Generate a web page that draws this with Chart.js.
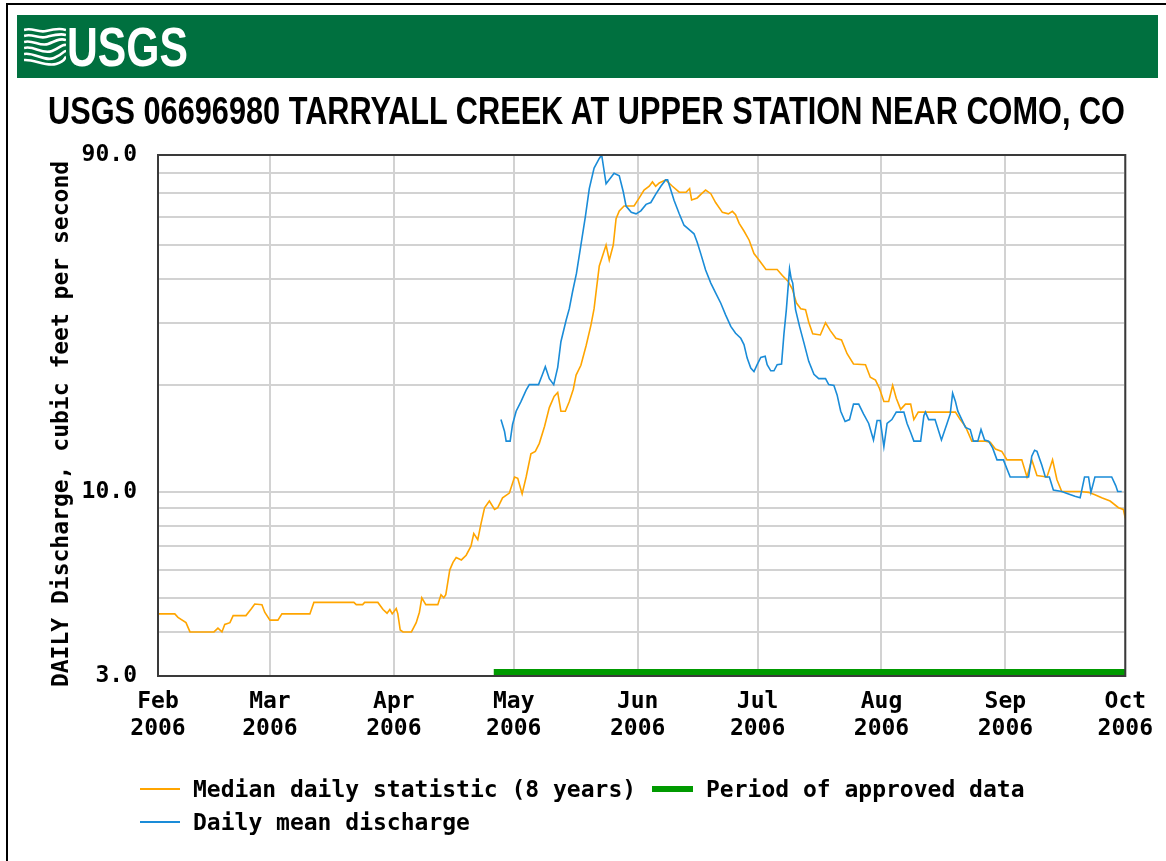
<!DOCTYPE html>
<html>
<head>
<meta charset="utf-8">
<script src="https://cdn.jsdelivr.net/npm/chart.js@4.4.0/dist/chart.umd.min.js"></script>
<style>
  body { margin: 0; background: #fff; width: 1166px; height: 861px; overflow: hidden; position: relative; }
  #frame { position: absolute; left: 6px; top: 3px; width: 1160px; height: 858px; border-top: 2px solid #000; border-left: 2px solid #000; box-sizing: border-box; }
  #banner { position: absolute; left: 17px; top: 15px; width: 1141px; height: 63px; background: #00703f; }
  #logoText { position: absolute; left: 67px; top: 20px; font: bold 55px/55px "Liberation Sans Narrow", "Liberation Sans", Arial, sans-serif; color: #fff; white-space: nowrap; transform-origin: 0 0; }
  #title { position: absolute; left: 48px; top: 92px; font: bold 38px/38px "Liberation Sans Narrow", "Liberation Sans", Arial, sans-serif; color: #000; white-space: nowrap; transform-origin: 0 0; }
  #yTitle { position: absolute; left: 60px; top: 424px; width: 600px; margin-left: -300px; margin-top: -14px; text-align: center; transform: rotate(-90deg); font: bold 23px/28px "DejaVu Sans Mono", monospace; color: #000; white-space: nowrap; }
  canvas { position: absolute; left: 0; top: 0; }
  .leg { position: absolute; font: bold 23px/28px "DejaVu Sans Mono", monospace; color: #000; white-space: nowrap; }
  .sw { position: absolute; }
</style>
</head>
<body>
<div id="frame"></div>
<canvas id="myChart" width="1166" height="861"></canvas>
<div id="banner"></div>
<svg width="42" height="40" viewBox="0 0 42 40" style="position:absolute;left:24px;top:27px">
  <g fill="none" stroke="#fff" stroke-width="2.6">
    <path d="M0 3 C8 0, 14 6, 22 4 S36 1, 42 3"/>
    <path d="M0 9 C8 6, 14 12, 22 10 S36 6, 42 8"/>
    <path d="M0 15 C8 12, 16 20, 24 17 S36 11, 42 13"/>
    <path d="M0 21 C10 18, 18 28, 28 24 S38 17, 42 18"/>
    <path d="M0 27 C10 25, 20 35, 30 31 S39 24, 42 24"/>
    <path d="M0 33 C10 32, 22 40, 32 37 S40 31, 42 30"/>
  </g>
</svg>
<div id="logoText">USGS</div>
<div id="title">USGS 06696980 TARRYALL CREEK AT UPPER STATION NEAR COMO, CO</div>
<div id="yTitle">DAILY Discharge, cubic feet per second</div>

<div class="sw" style="left:140px;top:788px;width:40px;height:2px;background:#ffa500"></div>
<div class="leg" style="left:193px;top:775px">Median daily statistic (8 years)</div>
<div class="sw" style="left:652px;top:786px;width:41px;height:6px;background:#009a00"></div>
<div class="leg" style="left:706px;top:775px">Period of approved data</div>
<div class="sw" style="left:140px;top:821px;width:40px;height:2px;background:#1a8cd8"></div>
<div class="leg" style="left:193px;top:808px">Daily mean discharge</div>

<script>
// days counted from Feb 1 2006
var monthDays = [0, 28, 59, 89, 120, 150, 181, 212, 242];
var monthLabels = ['Feb', 'Mar', 'Apr', 'May', 'Jun', 'Jul', 'Aug', 'Sep', 'Oct'];
var yearLabel = '2006';
var yGridValues = [3, 4, 5, 6, 7, 8, 9, 10, 20, 30, 40, 50, 60, 70, 80, 90];
var yLabelValues = [3, 10, 90];
var approvedStart = 84;
var approvedEnd = 242;

var medianDays = [0, 4.2, 5, 7, 8, 14, 15, 16, 16.7, 18, 18.8, 22, 23.4, 24.2, 26, 26.7, 28, 30, 31, 38,
  39, 49, 49.6, 51.2, 51.7, 55, 56.3, 57.3, 58, 58.6, 59.6, 60, 60.6, 61.3, 63.4, 64.6, 65.4, 66, 67, 70,
  70.8, 71.5, 72, 73, 73.8, 74.6, 75.9, 77.1, 78.3, 79, 80, 80.8, 81.7, 82.9, 84.2, 85, 86.2, 87.9, 89.2, 90,
  91.1, 92.1, 93.3, 94.4, 95.4, 96.7, 97.9, 99.1, 100, 100.8, 101.9, 102.9, 103.9, 104.6, 105.8, 107.1, 108.3, 109.1, 109.7, 110.4,
  112.1, 112.9, 113.9, 114.6, 115.4, 116.6, 119.1, 120.4, 121.6, 122.9, 123.7, 124.5, 125.4, 127, 128.7, 130.4, 132.1, 133, 133.5, 134.9,
  135.8, 137, 138.3, 139.5, 141.2, 142.7, 143.7, 144.5, 145.4, 146.6, 147.9, 149.1, 150.4, 152.1, 154.9, 156.2, 157.6, 158.7, 159.7, 160.8,
  162, 162.8, 163.8, 165.7, 167, 168.2, 169.6, 171, 172.4, 174, 177, 178.2, 179.5, 180.5, 181.6, 182.8, 183.8, 184.7, 185.8, 187,
  188.3, 189.1, 190.2, 199.5, 200.7, 202, 203.6, 207, 208.2, 209.5, 211.1, 212.4, 216.1, 217.4, 218.6, 219.9, 222.4, 223.8, 224.9, 226.1,
  230.7, 232.8, 234.4, 236.1, 238.2, 240.3, 241.5, 242];
var medianCfs = [4.5, 4.5, 4.4, 4.25, 4.0, 4.0, 4.1, 4.0, 4.2, 4.25, 4.45, 4.45, 4.66, 4.8, 4.78, 4.55, 4.32, 4.32, 4.5, 4.5,
  4.85, 4.85, 4.78, 4.78, 4.85, 4.85, 4.63, 4.52, 4.63, 4.5, 4.66, 4.5, 4.05, 4.0, 4.0, 4.25, 4.55, 5.0, 4.78, 4.78,
  5.1, 5.0, 5.1, 6.0, 6.3, 6.5, 6.4, 6.6, 7.0, 7.6, 7.3, 8.1, 9.0, 9.4, 8.9, 9.0, 9.6, 9.9, 11.0, 10.9,
  9.85, 11.0, 12.8, 13.0, 13.7, 15.3, 17.3, 18.6, 19.1, 16.9, 16.9, 18.0, 19.5, 21.4, 22.8, 25.9, 29.6, 33.0, 37.6, 43.6,
  50, 45.3, 50, 59.4, 62.5, 64.5, 64.5, 68, 71.6, 73.4, 75.5, 73.4, 75, 76.5, 73.4, 70.6, 70.6, 72.3, 67.1, 68,
  69.6, 71.6, 69.9, 66, 61.9, 61.3, 62.3, 61, 57.6, 54.8, 51.6, 47.3, 45.3, 42.6, 42.6, 41, 39.5, 37.5, 34.3, 33,
  32.8, 30.2, 28, 27.8, 30.1, 28.6, 27.2, 26.9, 24.6, 23.0, 22.9, 21.1, 20.7, 19.6, 18.0, 18.0, 20.0, 18.4, 17.1, 17.7,
  17.7, 16.0, 16.8, 16.8, 16.0, 15.3, 13.9, 13.9, 13.8, 13.2, 13.0, 12.3, 12.3, 11.0, 12.3, 11.1, 11.0, 12.3, 10.8, 10.0,
  10.0, 9.95, 9.8, 9.6, 9.4, 9.0, 8.9, 8.4];

var meanDays = [85.8, 86.7, 87.1, 88.1, 88.7, 89.6, 90.8, 92.1, 92.9, 95.2, 96.2, 96.9, 97.9, 99, 100, 100.8, 102.1, 102.9, 103.7, 104.7,
  105.8, 106.9, 107.9, 109.1, 110.4, 111, 112.1, 113.3, 114.1, 115.4, 116.4, 117.1, 118.4, 119.6, 120.8, 122.1, 123.3, 124.5, 125.8, 127,
  127.5, 128.3, 129.1, 130.4, 131.6, 132.9, 134.1, 134.9, 135.8, 137, 138.3, 139.5, 140.8, 142, 143.3, 144.5, 145.8, 146.6, 147.4, 148.3,
  149.1, 149.9, 150.8, 151.9, 152.4, 153.3, 154.1, 154.9, 156, 156.6, 157.2, 158, 158.4, 158.8, 159.5, 160.5, 161.6, 162.8, 164.1, 165.3,
  167, 167.8, 169.1, 169.9, 170.8, 171.9, 173, 174, 175.3, 176.5, 177.8, 179, 179.9, 180.7, 181.6, 182.4, 183.6, 184.7, 186.6, 187.4,
  188.3, 189.1, 190.8, 191.6, 192, 192.8, 194.4, 196, 197.4, 198.2, 198.8, 199.5, 200.1, 201.1, 202, 203.2, 204, 205.1, 205.9, 206.8,
  207.8, 208.8, 209.9, 211.5, 213.2, 217.8, 218.6, 219.3, 219.9, 221.1, 222, 223, 224, 226.1, 227.8, 229.4, 230.7, 231.8, 232.8, 233.4,
  234.4, 238.6, 239.6, 240.1, 241.1];
var meanCfs = [16.0, 14.8, 13.9, 13.9, 15.5, 16.9, 18.0, 19.4, 20.1, 20.1, 21.5, 22.6, 20.9, 20.1, 22.5, 26.6, 30.6, 33.0, 36.8, 41.6,
  50, 60, 72.3, 82.6, 88, 90, 74.6, 77.7, 79.9, 78.6, 70.8, 64.5, 61.9, 61.3, 62.5, 65.2, 66, 69.6, 73.4, 76.5,
  76.5, 71.6, 67, 61.3, 56.9, 55.3, 53.8, 50.9, 47.2, 42.5, 39.0, 36.6, 34.2, 31.7, 29.4, 28.1, 27.2, 26.1, 23.9, 22.4,
  21.9, 22.9, 24.0, 24.2, 22.9, 22.0, 22.0, 22.9, 23.0, 28.0, 32.8, 42.8, 40.2, 39.0, 32.8, 29.4, 26.4, 23.4, 21.5, 20.9,
  20.9, 20.1, 20.0, 18.8, 16.9, 15.8, 16.0, 17.7, 17.7, 16.6, 15.6, 14.0, 15.9, 15.9, 13.4, 15.6, 16.0, 16.8, 16.8, 15.6,
  14.7, 13.9, 13.9, 16.4, 16.8, 16.0, 16.0, 14.0, 15.6, 16.6, 19.0, 18.0, 16.9, 16.0, 15.2, 15.0, 13.9, 13.9, 15.0, 14.0,
  13.9, 13.3, 12.3, 12.3, 11.0, 11.0, 12.6, 13.1, 13.0, 11.9, 11.0, 11.0, 10.1, 10.0, 9.85, 9.7, 9.6, 11.0, 11.0, 9.95,
  11.0, 11.0, 10.4, 10.0, 10.0];

function toPoints(days, vals) {
    return days.map(function (d, i) { return { x: d, y: vals[i] }; });
}

// squeeze html text into the width it has in the picture
function fitWidth(id, w) {
    var el = document.getElementById(id);
    el.style.transform = 'scaleX(' + (w / el.getBoundingClientRect().width) + ')';
}
fitWidth('logoText', 121);
fitWidth('title', 1077);

var axisFont = { family: '"DejaVu Sans Mono", monospace', size: 23, weight: 'bold' };

var framePlugin = {
    id: 'frame',
    afterDatasetsDraw: function (chart) {
        var ctx = chart.ctx, a = chart.chartArea, x = chart.scales.x;
        ctx.save();
        var x0 = x.getPixelForValue(approvedStart), x1 = x.getPixelForValue(approvedEnd);
        ctx.fillStyle = '#009a00';
        ctx.fillRect(x0, a.bottom - 7, x1 - x0, 6);
        ctx.strokeStyle = '#3a3a3a';
        ctx.lineWidth = 2;
        ctx.strokeRect(a.left, a.top, a.right - a.left, a.bottom - a.top);
        ctx.restore();
    }
};

var ctx = document.getElementById('myChart').getContext('2d');
var myChart = new Chart(ctx, {
    type: 'line',
    data: {
        datasets: [{
            label: 'Median daily statistic (8 years)',
            data: toPoints(medianDays, medianCfs),
            borderColor: '#ffa500',
            borderWidth: 1.6,
            pointRadius: 0,
            tension: 0,
            order: 1
        }, {
            label: 'Daily mean discharge',
            data: toPoints(meanDays, meanCfs),
            borderColor: '#1a8cd8',
            borderWidth: 1.6,
            pointRadius: 0,
            tension: 0,
            order: 0
        }]
    },
    options: {
        responsive: false,
        animation: false,
        devicePixelRatio: 1,
        layout: { padding: { left: 43, top: 155, right: 38, bottom: 105 } },
        plugins: {
            legend: { display: false },
            tooltip: { enabled: false }
        },
        scales: {
            x: {
                type: 'linear',
                min: 0,
                max: 242,
                afterBuildTicks: function (s) { s.ticks = monthDays.map(function (v) { return { value: v }; }); },
                afterFit: function (s) { s.height = 80; },
                ticks: {
                    autoSkip: false,
                    maxRotation: 0,
                    padding: 13,
                    color: '#000',
                    font: Object.assign({ lineHeight: 1.17 }, axisFont),
                    callback: function (v) {
                        var i = monthDays.indexOf(v);
                        return i < 0 ? '' : [monthLabels[i], yearLabel];
                    }
                },
                grid: { color: '#d2d2d2', lineWidth: 2, drawTicks: false },
                border: { display: false }
            },
            y: {
                type: 'logarithmic',
                min: 3,
                max: 90,
                afterBuildTicks: function (s) { s.ticks = yGridValues.map(function (v) { return { value: v }; }); },
                afterFit: function (s) { s.width = 115; },
                ticks: {
                    autoSkip: false,
                    padding: 21,
                    color: '#000',
                    font: axisFont,
                    callback: function (v) { return yLabelValues.indexOf(v) >= 0 ? v.toFixed(1) : ''; }
                },
                grid: { color: '#d2d2d2', lineWidth: 2, drawTicks: false },
                border: { display: false }
            }
        }
    },
    plugins: [framePlugin]
});
</script>
</body>
</html>
